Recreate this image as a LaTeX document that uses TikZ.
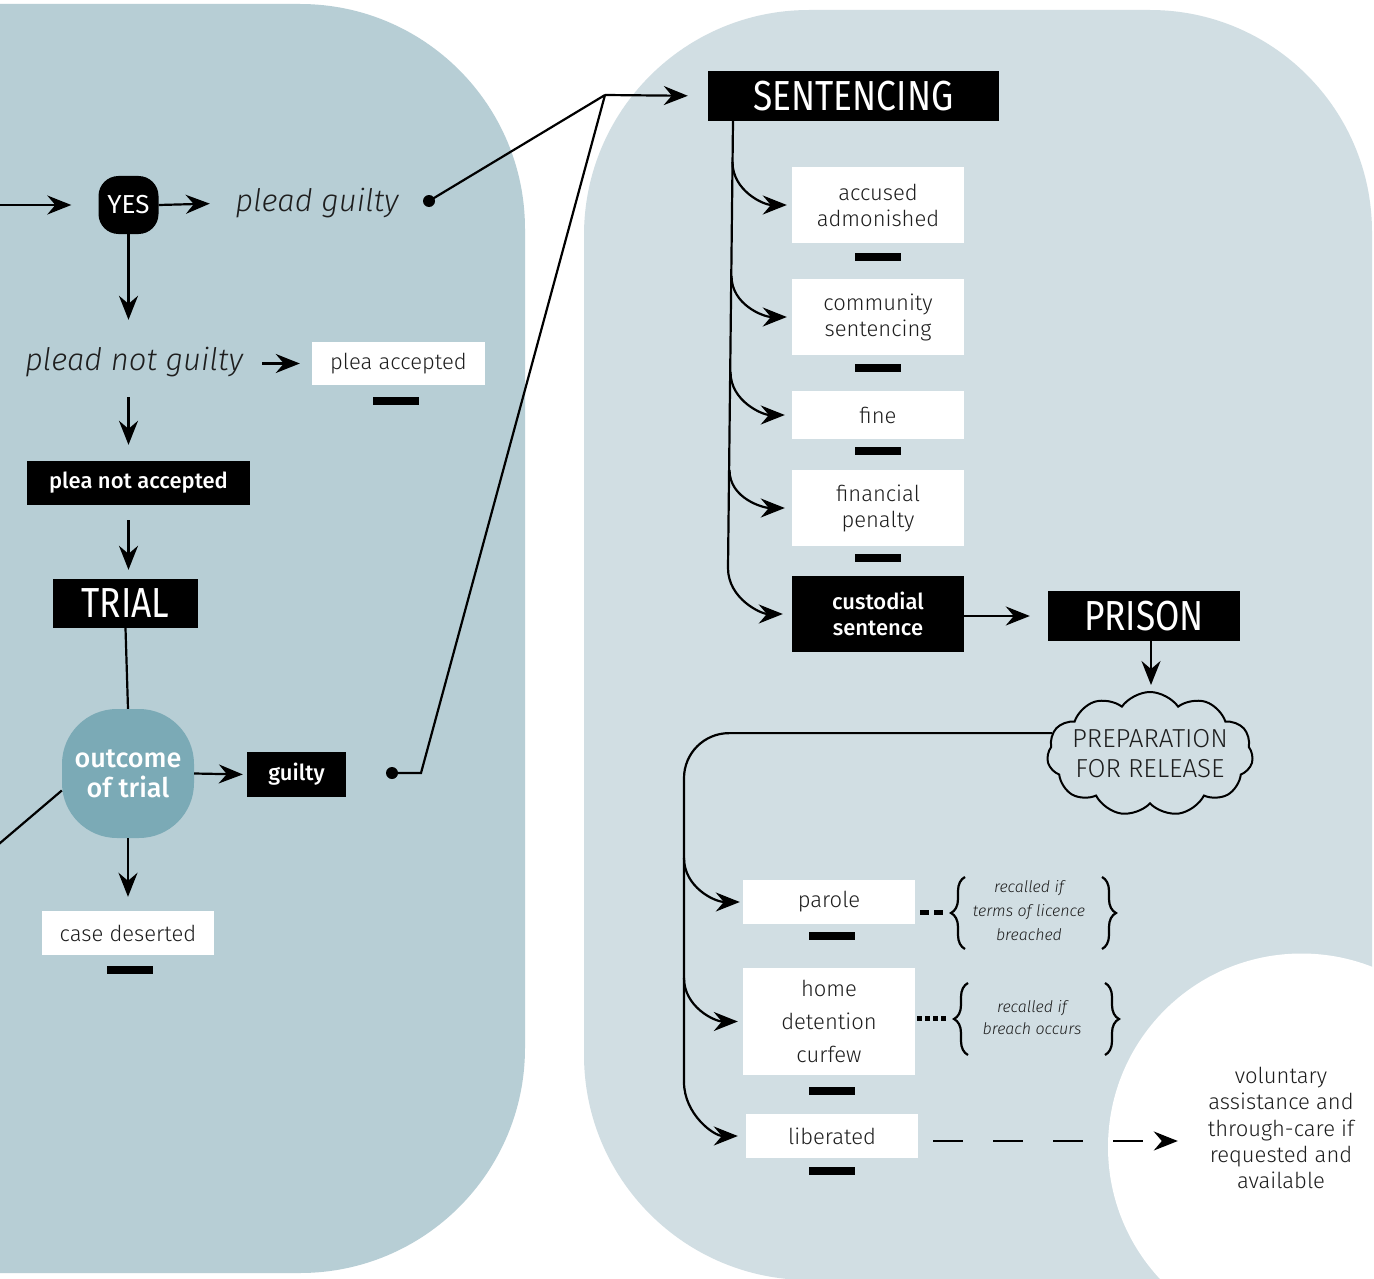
\documentclass[tikz,border=0pt]{standalone}
\usepackage{fontspec}
\setmainfont{Fira Sans}
\IfFontExistsTF{Fira Sans Light}{%
  \IfFontExistsTF{Fira Sans Light Italic}%
    {\newfontfamily\lightf{Fira Sans Light}[ItalicFont={Fira Sans Light Italic}]}%
    {\newfontfamily\lightf{Fira Sans Light}}%
}{\newfontfamily\lightf{Fira Sans}}
\IfFontExistsTF{Fira Sans Medium}%
  {\newfontfamily\medf{Fira Sans Medium}}%
  {\newfontfamily\medf{Fira Sans}[UprightFont=*, UprightFeatures={FakeBold=1.5}]}
\newfontfamily\condf{Fira Sans}[FakeStretch=0.84]
\usetikzlibrary{arrows.meta,shapes.symbols,decorations.pathreplacing,calc}
\definecolor{lbg}{HTML}{B7CED5}
\definecolor{rbg}{HTML}{D1DEE3}
\definecolor{blobc}{HTML}{7BAAB6}
\definecolor{ink}{HTML}{1E1E1E}
\tikzset{
  ln/.style={line width=2.2pt, draw=black},
  arr/.style={line width=2.2pt, draw=black, -{Stealth[length=24pt, width=19pt, inset=8pt]}},
  darr/.style={arr, dash pattern=on 30pt off 30pt},
  wbox/.style={fill=white, text=ink, inner sep=0pt, align=center, font=\lightf\fontsize{22}{26}\selectfont},
  bbox/.style={fill=black, text=white, inner sep=0pt, align=center, font=\medf\fontsize{22}{26}\selectfont},
  titlebox/.style={fill=black, text=white, inner sep=0pt, font=\condf\fontsize{42}{46}\selectfont},
  bar/.style={fill=black, minimum width=46pt, minimum height=8pt, inner sep=0pt},
  dot/.style={circle, fill=black, minimum size=12pt, inner sep=0pt},
  itl/.style={text=ink, inner sep=0pt, minimum height=40pt, font=\lightf\itshape\fontsize{31}{36}\selectfont},
  smallit/.style={text=ink, inner sep=0pt, align=center, font=\lightf\itshape\fontsize{16}{22}\selectfont},
  brace/.style={decorate, decoration={brace, amplitude=14pt}, line width=2.2pt},
}
\begin{document}
\begin{tikzpicture}[x=1pt, y=1pt]
\useasboundingbox (0,0) rectangle (1374,-1279);
\clip (0,0) rectangle (1374,-1279);
\fill[white] (0,0) rectangle (1374,-1279);
% panels
\fill[lbg] (-50,-4) -- (300,-4) arc[start angle=90, end angle=0, radius=225] -- (525,-1048)
  arc[start angle=0, end angle=-90, radius=225] -- (-50,-1273) -- cycle;
\fill[rbg] (809,-1280) arc[start angle=270, end angle=180, radius=225] -- (584,-235)
  arc[start angle=180, end angle=90, radius=225] -- (1150,-10)
  arc[start angle=90, end angle=0, radius=222] -- (1372,-1300) -- (809,-1300) -- cycle;
\fill[white] (1301.5,-1147) circle[radius=193.5];

% ---- left part
\node[fill=black, rounded corners=20pt, minimum width=60pt, minimum height=58pt, inner sep=0pt,
  text=white, font=\fontsize{26}{30}\selectfont] (yes) at (128.5,-205) {YES};
\node[itl, minimum width=165pt] (pg) at (317,-203) {plead guilty};
\node[dot] (pgdot) at (429,-201) {};
\node[itl, minimum width=218pt] (pnot) at (134,-362) {plead not guilty};
\node[wbox, minimum width=173pt, minimum height=43pt] (pacc) at (398.5,-363.5) {plea accepted};
\node[bar] (b1) at (396,-401) {};
\node[bbox, minimum width=223pt, minimum height=44pt] (pna) at (138.5,-483) {plea not accepted};
\node[titlebox, minimum width=145pt, minimum height=49pt] (trial) at (125.5,-603.5) {TRIAL};
\node[fill=blobc, rounded corners=55pt, minimum width=132pt, minimum height=129pt, inner sep=0pt,
  text=white, align=center, font=\medf\fontsize{27}{30}\selectfont] (out) at (128,-773.5) {outcome\\of trial};
\node[bbox, minimum width=99pt, minimum height=45pt] (guilty) at (296.5,-774.5) {guilty};
\node[dot] (gdot) at (392,-773) {};
\node[wbox, minimum width=172pt, minimum height=44pt] (cd) at (128,-933) {case deserted};
\node[bar] (b2) at (130,-970) {};

% ---- sentencing
\node[titlebox, minimum width=291pt, minimum height=50pt] (sent) at (853.5,-96) {SENTENCING};
\node[wbox, minimum width=172pt, minimum height=76pt] (acc) at (878,-205) {accused\\admonished};
\node[bar] (b3) at (878,-257) {};
\node[wbox, minimum width=172pt, minimum height=76pt] (comm) at (878,-317) {community\\sentencing};
\node[bar] (b4) at (878,-368) {};
\node[wbox, minimum width=172pt, minimum height=48pt] (fine) at (878,-415) {fine};
\node[bar] (b5) at (878,-451) {};
\node[wbox, minimum width=172pt, minimum height=76pt] (fin) at (878,-508) {financial\\penalty};
\node[bar] (b6) at (878,-558) {};
\node[bbox, minimum width=172pt, minimum height=76pt] (cust) at (878,-614) {custodial\\sentence};
\node[titlebox, minimum width=192pt, minimum height=50pt] (prison) at (1144,-616) {PRISON};
\node[cloud, cloud ignores aspect, draw, line width=2pt, fill=rbg, cloud puffs=11, cloud puff arc=110,
  minimum width=206pt, minimum height=124pt, inner xsep=-6pt, inner ysep=-4pt, align=center, text=ink,
  font=\lightf\fontsize{26}{30}\selectfont] (prep) at (1150,-754) {PREPARATION\\FOR RELEASE};

\coordinate (lin) at (-5,-205);
\coordinate (lout) at (-30,-868.6);
\coordinate (j) at (605,-95);

\draw[arr, shorten >=27pt] (lin) -- (yes.west);
\draw[arr, shorten >=24.5pt] (yes.east) -- (pg.west);
\draw[arr, shorten >=22pt] (yes.south) -- (pnot.north -| yes.south);
\draw[arr, shorten <=19pt, shorten >=12pt] (pnot.east |- pacc.west) -- (pacc.west);
\draw[arr, shorten <=15pt, shorten >=16pt] (pnot.south -| yes.south) -- (pna.north -| yes.south);
\draw[arr, shorten <=15pt, shorten >=9pt] (pna.south -| yes.south) -- (trial.north -| yes.south);
\draw[ln] (trial.south) -- (out.north);
\draw[arr, shorten >=4pt] (out.east) -- (guilty.west);
\draw[arr, shorten >=14pt] (out.south) -- (cd.north);
\draw[ln] ([yshift=-17pt]out.west) -- (lout);
\draw[ln] (pgdot.center) -- (j);
\draw[ln] (gdot.center) -- ++(29,0) -- (j);
\draw[arr, shorten >=20pt] (j) -- (sent.west);

\coordinate (st) at (733,-121);
\coordinate (sa) at (732.5,-162);
\coordinate (sc) at (731.5,-276);
\coordinate (sf) at (730.5,-372);
\coordinate (sp) at (729.5,-470);
\draw[arr, shorten >=9pt] (st) -- (728,-568) to[out=-90, in=180] (cust.west);
\draw[arr, shorten >=5pt] (sa) to[out=-90, in=180] (acc.west);
\draw[arr, shorten >=5pt] (sc) to[out=-90, in=180] (comm.west);
\draw[arr, shorten >=7pt] (sf) to[out=-90, in=180] (fine.west);
\draw[arr, shorten >=7pt] (sp) to[out=-90, in=180] (fin.west);
\draw[arr, shorten >=18pt] (cust.east |- prison.west) -- (prison.west);
\draw[arr, shorten >=6pt] ([xshift=7pt]prison.south) -- ([xshift=1pt]prep.north);

% ---- release
\node[wbox, minimum width=172pt, minimum height=44pt] (parole) at (829,-902) {parole};
\node[bar] (b7) at (832,-936) {};
\node[wbox, minimum width=172pt, minimum height=107pt, font=\lightf\fontsize{22}{33}\selectfont] (home) at (829,-1021.5) {home\\detention\\curfew};
\node[bar] (b8) at (832,-1091) {};
\node[wbox, minimum width=172pt, minimum height=44pt] (lib) at (832,-1136) {liberated};
\node[bar] (b9) at (832,-1171) {};
\node[text=ink, align=center, inner sep=0pt, minimum width=152pt, font=\lightf\fontsize{22}{26.3}\selectfont] (vol) at (1281,-1128)
  {voluntary\\assistance and\\through-care if\\requested and\\available};
\node[smallit, font=\lightf\itshape\fontsize{16}{24}\selectfont] (r1) at (1029,-911) {recalled if\\terms of licence\\breached};
\node[smallit, font=\lightf\itshape\fontsize{16}{22}\selectfont] (r2) at (1032,-1018) {recalled if\\breach occurs};

\draw[brace] (965,-949) -- (965,-877);
\draw[brace] (1102,-877) -- (1102,-949);
\draw[brace] (968,-1055) -- (968,-983);
\draw[brace] (1105,-983) -- (1105,-1055);

\coordinate (rp) at (684,-858);
\coordinate (rh) at (684,-978);
\coordinate (rl) at (684,-1082);
\draw[ln, rounded corners=45pt] (prep.168) -| (rl);
\draw[arr, shorten >=8pt] (rl) to[out=-90, in=180] (lib.west);
\draw[arr, shorten >=3pt] (rp) to[out=-90, in=180] (parole.west);
\draw[arr, shorten >=5pt] (rh) to[out=-90, in=180] (home.west);

\draw[line width=5pt, dash pattern=on 9pt off 5pt] ([xshift=5pt,yshift=-10pt]parole.east) -- ++(23,0);
\draw[line width=5pt, dash pattern=on 5pt off 3pt] ([xshift=2pt,yshift=3pt]home.east) -- ++(30,0);
\draw[darr, shorten <=15pt, shorten >=27pt] ([yshift=-5pt]lib.east) -- ([yshift=-5pt]lib.east -| vol.west);
\end{tikzpicture}
\end{document}
